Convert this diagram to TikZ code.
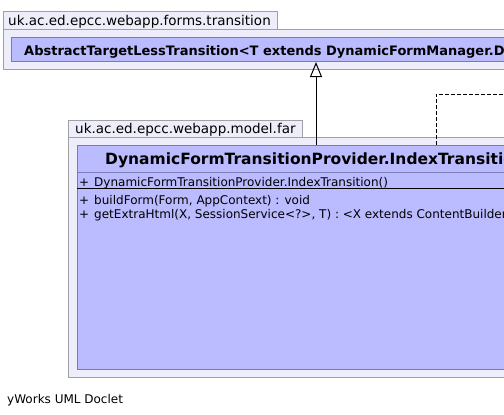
\documentclass[tikz,border=0pt]{standalone}
\usepackage{fontspec}
\setmainfont{DejaVu Sans}
\usetikzlibrary{arrows.meta}
\definecolor{pkgfill}{HTML}{EEEEFA}
\definecolor{pkgline}{HTML}{A0A0A8}
\definecolor{clsfill}{HTML}{BBBBFF}
\definecolor{clsline}{HTML}{7A7AB8}
\begin{document}
\begin{tikzpicture}[x=1pt,y=-1pt,
  pkgbody/.style={draw=pkgline, fill=pkgfill, line width=1pt},
  clsbox/.style={draw=clsline, fill=clsfill, line width=1pt},
  pkglabel/.style={anchor=base west, inner sep=0pt, font=\fontsize{13.5}{16}\selectfont},
  member/.style={anchor=base west, inner sep=0pt, font=\fontsize{12}{14}\selectfont},
  gen/.style={-{Triangle[open, width=12pt, length=15pt]}, line width=1pt},
  dep/.style={line width=1pt, dash pattern=on 4pt off 2pt}]
\useasboundingbox (0,0) rectangle (504,415);
\clip (0,0) rectangle (504,415);
\fill[white] (0,0) rectangle (504,415);
% upper package
\draw[pkgbody] (3,29) rectangle (620,69);
\draw[pkgbody] (3,11) rectangle (277,29);
\node[pkglabel] (pkgA) at (8,25) {uk.ac.ed.epcc.webapp.forms.transition};
\node[clsbox, anchor=north west, minimum width=700pt, minimum height=24pt, inner sep=0pt] (upper) at (11,37) {};
\node[anchor=base west, inner sep=0pt, font=\bfseries\fontsize{13}{16}\selectfont] (upperT) at (24,55.5) {AbstractTargetLessTransition<T extends DynamicFormManager.DynamicForm>};
% lower package
\draw[pkgbody] (68,137) rectangle (620,377);
\draw[pkgbody] (68,120) rectangle (302,137);
\node[pkglabel] (pkgB) at (75,133) {uk.ac.ed.epcc.webapp.model.far};
\node[clsbox, anchor=north west, minimum width=700pt, minimum height=224pt, inner sep=0pt] (lower) at (77,145) {};
\node[anchor=base west, inner sep=0pt, font=\bfseries\fontsize{15.5}{19}\selectfont] (lowerT) at (105,164.5) {DynamicFormTransitionProvider.IndexTransition};
\draw[clsline, line width=1pt] (lower.west |- 0,172) -- (lower.east |- 0,172);
\draw[black, line width=1pt] (lower.west |- 0,188) -- (lower.east |- 0,188);
\node[member] (m1) at (79,186) {+\hspace{5pt}DynamicFormTransitionProvider.IndexTransition()};
\node[member] (m2) at (79,204) {+\hspace{5pt}buildForm(Form, AppContext) : void};
\node[member] (m3) at (79,218) {+\hspace{5pt}getExtraHtml(X, SessionService<?>, T) : <X extends ContentBuilder> X};
% connectors
\coordinate (ax) at (316,0);
\draw[gen] (ax |- lower.north) -- (ax |- upper.south);
\coordinate (dx) at (436,0);
\coordinate (dend) at (520,94);
\draw[dep] (dx |- lower.north) -- (dx |- dend) -- (dend);
% footer
\node[member] (foot) at (7,403.5) {yWorks UML Doclet};
\end{tikzpicture}
\end{document}
